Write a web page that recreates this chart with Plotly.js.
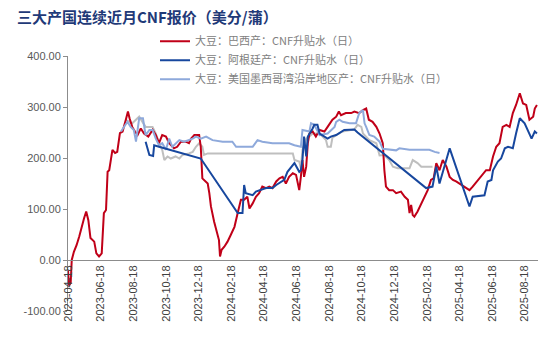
<!DOCTYPE html>
<html>
<head>
<meta charset="utf-8">
<script src="https://cdn.plot.ly/plotly-3.0.1.min.js"></script>
<style>html,body{margin:0;padding:0;background:#fff;}#chart{width:554px;height:352px;}</style>
</head>
<body>
<div id="chart"></div>
<script>
// Brazil
const brazilDates = ["2023-04-18","2023-04-20","2023-04-23","2023-04-25","2023-04-29","2023-05-04","2023-05-09","2023-05-14","2023-05-18","2023-05-22","2023-05-26","2023-05-30","2023-06-06","2023-06-10","2023-06-15","2023-06-20","2023-06-24","2023-06-28","2023-07-01","2023-07-04","2023-07-10","2023-07-15","2023-07-19","2023-07-24","2023-07-29","2023-08-04","2023-08-08","2023-08-11","2023-08-16","2023-08-21","2023-08-26","2023-09-01","2023-09-07","2023-09-15","2023-09-23","2023-09-29","2023-10-05","2023-10-11","2023-10-18","2023-10-24","2023-11-02","2023-11-08","2023-11-15","2023-11-24","2023-11-30","2023-12-04","2023-12-10","2023-12-19","2023-12-22","2023-12-25","2024-01-04","2024-01-07","2024-01-10","2024-01-16","2024-01-19","2024-01-25","2024-01-27","2024-01-30","2024-02-04","2024-02-10","2024-02-16","2024-02-23","2024-02-29","2024-03-06","2024-03-12","2024-03-18","2024-03-22","2024-03-28","2024-04-03","2024-04-09","2024-04-15","2024-04-22","2024-04-28","2024-05-04","2024-05-11","2024-05-17","2024-05-23","2024-05-29","2024-06-04","2024-06-11","2024-06-17","2024-06-23","2024-06-26","2024-06-29","2024-07-02","2024-07-06","2024-07-09","2024-07-12","2024-07-18","2024-07-24","2024-07-31","2024-08-09","2024-08-15","2024-08-24","2024-08-31","2024-09-05","2024-09-09","2024-09-18","2024-09-28","2024-10-04","2024-10-13","2024-10-20","2024-10-26","2024-10-31","2024-11-07","2024-11-14","2024-11-20","2024-11-26","2024-11-29","2024-12-02","2024-12-08","2024-12-15","2024-12-21","2024-12-30","2025-01-06","2025-01-12","2025-01-15","2025-01-18","2025-01-21","2025-01-24","2025-01-30","2025-02-06","2025-02-12","2025-02-18","2025-02-24","2025-03-01","2025-03-06","2025-03-12","2025-03-18","2025-03-25","2025-03-31","2025-04-06","2025-04-12","2025-04-18","2025-04-28","2025-05-07","2025-05-13","2025-05-23","2025-06-01","2025-06-07","2025-06-14","2025-06-20","2025-06-26","2025-07-02","2025-07-08","2025-07-15","2025-07-21","2025-07-27","2025-08-02","2025-08-09","2025-08-15","2025-08-21","2025-08-27","2025-09-03","2025-09-06","2025-09-10"];
const brazilValues = [-20,-50,-45,0,16,29,46,69,82,95,78,43,36,13,7,13,92,98,173,176,216,210,212,249,252,275,291,278,261,252,245,258,248,242,255,245,229,245,242,229,219,222,232,232,229,238,245,245,222,160,150,131,105,75,62,39,7,20,26,36,49,65,92,118,118,124,101,111,124,131,144,141,144,141,154,160,163,150,163,170,167,137,163,196,163,183,229,248,252,242,255,252,261,275,281,291,284,288,288,291,288,294,297,275,271,261,248,229,176,144,137,137,131,134,124,118,92,108,88,85,95,111,124,137,157,160,190,176,196,183,163,157,154,150,144,137,144,157,167,176,176,203,222,229,261,265,261,288,304,327,307,304,275,281,297,304];

// Argentina
const argDates = ["2023-09-10","2023-09-17","2023-09-24","2023-09-26","2023-10-05","2023-12-22","2024-02-29","2024-03-09","2024-03-12","2024-03-15","2024-03-28","2024-04-03","2024-04-22","2024-05-04","2024-05-11","2024-05-20","2024-05-26","2024-06-01","2024-06-08","2024-06-14","2024-06-23","2024-06-26","2024-06-29","2024-07-02","2024-07-06","2024-07-09","2024-07-18","2024-07-21","2024-07-27","2024-07-31","2024-08-15","2024-08-21","2024-08-31","2024-09-09","2024-09-15","2024-10-04","2024-10-10","2025-02-15","2025-02-27","2025-03-06","2025-03-12","2025-03-31","2025-05-07","2025-05-13","2025-06-04","2025-06-10","2025-06-17","2025-06-20","2025-06-29","2025-07-05","2025-07-12","2025-07-18","2025-07-27","2025-08-02","2025-08-09","2025-08-18","2025-08-31","2025-09-06","2025-09-10"];
const argValues = [232,206,204,225,222,199,92,92,147,131,127,134,141,141,147,154,157,173,183,190,173,176,196,242,203,242,258,265,265,248,238,242,245,252,255,256,250,141,144,183,150,219,105,124,127,154,157,176,193,199,219,222,219,248,278,268,238,252,248];

// US Gulf
const usDates = ["2023-07-26","2023-08-01","2023-08-07","2023-08-13","2023-08-19","2023-08-23","2023-08-29","2023-09-05","2023-09-10","2023-09-17","2023-09-23","2023-09-29","2023-10-05","2023-10-11","2023-10-18","2023-10-24","2023-10-30","2023-11-12","2023-11-21","2023-12-07","2023-12-13","2023-12-22","2024-01-01","2024-01-13","2024-02-01","2024-02-19","2024-02-26","2024-03-28","2024-04-06","2024-04-15","2024-05-04","2024-06-04","2024-06-14","2024-06-26","2024-06-29","2024-07-12","2024-07-15","2024-07-21","2024-07-31","2024-08-15","2024-08-28","2024-08-31","2024-09-06","2024-09-12","2024-09-25","2024-10-07","2024-10-13","2024-10-20","2024-10-23","2024-10-26","2024-11-01","2024-11-10","2024-11-20","2024-11-26","2024-12-21","2024-12-27","2025-01-15","2025-02-21","2025-03-03","2025-03-12"];
const usValues = [252,261,271,261,255,232,278,278,245,255,255,238,225,229,216,238,222,235,232,238,242,238,242,235,232,232,222,222,235,232,229,229,225,222,255,252,268,265,245,248,261,271,275,271,268,268,288,294,268,261,245,242,232,218,215,219,216,216,212,210];

// Unlabelled grey series
const greyDates = ["2023-08-04","2023-08-16","2023-08-29","2023-09-10","2023-09-23","2023-09-29","2023-10-05","2023-10-11","2023-10-15","2023-10-21","2023-10-27","2023-11-05","2023-11-12","2023-11-18","2023-11-30","2023-12-07","2023-12-13","2023-12-19","2023-12-25","2023-12-28","2024-01-04","2024-03-22","2024-06-11","2024-06-14","2024-06-23","2024-06-26","2024-06-29","2024-07-06","2024-07-12","2024-07-18","2024-07-31","2024-08-12","2024-08-15","2024-08-21","2024-08-24","2024-08-31","2024-09-12","2024-10-04","2024-10-10","2024-10-17","2024-10-20","2024-11-01","2024-11-14","2024-11-20","2024-11-29","2024-12-08","2024-12-15","2024-12-24","2025-01-15","2025-01-21","2025-01-30","2025-02-06","2025-02-27"];
const greyValues = [275,268,281,261,261,248,230,216,196,203,199,203,199,206,209,212,222,229,222,206,209,209,209,196,193,180,216,238,242,248,248,235,222,222,240,245,252,256,265,261,248,235,229,205,206,196,183,180,180,196,190,183,183];

const seriesNames = ["大豆：巴西产：CNF升贴水（日）","大豆：阿根廷产：CNF升贴水（日）","大豆：美国墨西哥湾沿岸地区产：CNF升贴水（日）"];
const xTicks = ["2023-04-18","2023-06-18","2023-08-18","2023-10-18","2023-12-18","2024-02-18","2024-04-18","2024-06-18","2024-08-18","2024-10-18","2024-12-18","2025-02-18","2025-04-18","2025-06-18","2025-08-18"];
const yTicks = [-100,0,100,200,300,400];
const titleText = "三大产国连续近月CNF报价（美分/蒲）";

const traces = [
  {x: greyDates, y: greyValues, type:'scatter', mode:'lines', name:'', showlegend:false, line:{color:'#BFBFBF', width:2}, hoverinfo:'skip'},
  {x: brazilDates, y: brazilValues, type:'scatter', mode:'lines', name: seriesNames[0], legendrank:1, line:{color:'#C00018', width:2}},
  {x: usDates, y: usValues, type:'scatter', mode:'lines', name: seriesNames[2], legendrank:3, line:{color:'#8EA9DB', width:2}},
  {x: argDates, y: argValues, type:'scatter', mode:'lines', name: seriesNames[1], legendrank:2, line:{color:'#17479E', width:2}}
];

const layout = {
  width:554, height:352,
  margin:{l:68, r:16, t:56, b:41},
  paper_bgcolor:'#ffffff', plot_bgcolor:'#ffffff',
  font:{family:'"Liberation Sans", Arial, sans-serif', size:11, color:'#404040'},
  title:{text: titleText, x:17/554, xref:'container', xanchor:'left', y:1-18/352, yref:'container', yanchor:'middle',
         font:{family:'"Noto Sans CJK SC", sans-serif', size:15, color:'#1F3A78', weight:700}},
  showlegend:true,
  legend:{x:(155-68)/470, xanchor:'left', y:1.115, yanchor:'top', bgcolor:'rgba(0,0,0,0)',
          font:{family:'"Noto Sans CJK SC", sans-serif', size:11, color:'#808080'}, tracegroupgap:0, itemwidth:30},
  xaxis:{type:'date', range:['2023-04-18','2025-09-12'], tickvals:xTicks, ticktext:xTicks, tickangle:-90,
         showgrid:false, zeroline:false, showline:true, linecolor:'#8C8C8C', linewidth:1,
         anchor:'free', position:0.2, ticks:'', tickfont:{size:11, color:'#404040'}},
  yaxis:{range:[-100,400], tickvals:yTicks, ticktext:yTicks.map(v=>v.toFixed(2)), showgrid:false, zeroline:false,
         showline:true, linecolor:'#8C8C8C', linewidth:1, ticks:'outside', ticklen:4, tickcolor:'#8C8C8C',
         tickfont:{size:11, color:'#595959'}}
};

Plotly.newPlot('chart', traces, layout, {displayModeBar:false, staticPlot:true});
</script>
</body>
</html>
